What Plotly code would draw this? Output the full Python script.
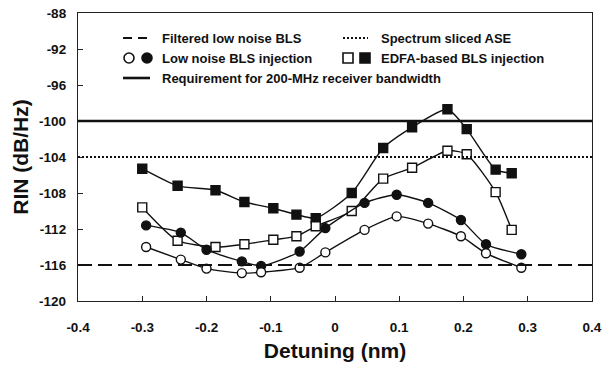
import plotly.graph_objects as go

# ---------------- data ----------------
sq_x = [-0.300, -0.245, -0.186, -0.141, -0.096, -0.060, -0.030,
        0.026, 0.075, 0.120, 0.175, 0.205, 0.250, 0.275]
edfa_filled = [-105.3, -107.2, -107.7, -109.0, -109.7, -110.4, -110.8,
               -108.0, -103.0, -100.7, -98.7, -100.9, -105.4, -105.8]
edfa_open = [-109.6, -113.3, -114.0, -113.7, -113.2, -112.8, -111.7,
             -110.0, -106.4, -105.2, -103.3, -103.7, -107.9, -112.1]

ci_x = [-0.294, -0.240, -0.200, -0.145, -0.115, -0.055, -0.015,
        0.046, 0.096, 0.145, 0.196, 0.235, 0.290]
lownoise_filled = [-111.6, -112.4, -114.3, -115.6, -116.1, -114.5, -111.9,
                   -109.1, -108.2, -109.1, -111.0, -113.7, -114.8]
lownoise_open = [-114.0, -115.4, -116.4, -116.9, -116.8, -116.3, -114.6,
                 -112.1, -110.6, -111.4, -112.8, -114.7, -116.3]

REQ_LEVEL = -100        # requirement for 200-MHz receiver bandwidth
ASE_LEVEL = -104        # spectrum sliced ASE
FILTERED_LEVEL = -116   # filtered low noise BLS

x_ticks = [-0.4, -0.3, -0.2, -0.1, 0, 0.1, 0.2, 0.3, 0.4]
x_ticktext = ["-0.4", "-0.3", "-0.2", "-0.1", "0", "0.1", "0.2", "0.3", "0.4"]
y_ticks = [-120, -116, -112, -108, -104, -100, -96, -92, -88]
y_ticktext = ["-120", "-116", "-112", "-108", "-104", "-100", "-96", "-92", "-88"]

legend_labels = ["Filtered low noise BLS", "Spectrum sliced ASE",
                 "Low noise BLS injection", "EDFA-based BLS injection",
                 "Requirement for 200-MHz receiver bandwidth"]

# ---------------- layout constants ----------------
W, H = 613, 367
L, R, T, B = 78, 21, 13, 66
PW, PH = W - L - R, H - T - B
FONT = "Liberation Sans, Arial, sans-serif"
BLK = "#111111"


def px(xp):
    return (xp - L) / PW


def py(yp):
    return (H - B - yp) / PH


fig = go.Figure()

# reference horizontal levels
fig.add_shape(type="line", xref="paper", x0=0, x1=1, yref="y", y0=FILTERED_LEVEL, y1=FILTERED_LEVEL,
              line=dict(color=BLK, width=2, dash="14px,6px"))
fig.add_shape(type="line", xref="paper", x0=0, x1=1, yref="y", y0=ASE_LEVEL, y1=ASE_LEVEL,
              line=dict(color=BLK, width=2, dash="2px,2px"))
fig.add_shape(type="line", xref="paper", x0=0, x1=1, yref="y", y0=REQ_LEVEL, y1=REQ_LEVEL,
              line=dict(color=BLK, width=2.6))

line_style = dict(color=BLK, width=1.4, shape="spline", smoothing=0.6)
series = [
    (sq_x, edfa_filled, "square", BLK),
    (sq_x, edfa_open, "square", "white"),
    (ci_x, lownoise_filled, "circle", BLK),
    (ci_x, lownoise_open, "circle", "white"),
]
for xs, ys, sym, fill in series:
    fig.add_trace(go.Scatter(
        x=xs, y=ys, mode="lines+markers", line=line_style,
        marker=dict(symbol=sym, size=9, color=fill, line=dict(color=BLK, width=1.4)),
        showlegend=False, hoverinfo="skip"))

# ---------------- custom legend ----------------
row_y = [38, 58, 78]
c1_sym0, c1_sym1, c1_text = 123, 150, 160
c2_sym0, c2_sym1, c2_text = 343, 368, 379

fig.add_shape(type="line", xref="paper", yref="paper", x0=px(c1_sym0), x1=px(c1_sym1),
              y0=py(row_y[0]), y1=py(row_y[0]), line=dict(color=BLK, width=2.2, dash="9px,6px"))
fig.add_shape(type="line", xref="paper", yref="paper", x0=px(c2_sym0), x1=px(c2_sym1),
              y0=py(row_y[0]), y1=py(row_y[0]), line=dict(color=BLK, width=2, dash="2px,2px"))
fig.add_shape(type="line", xref="paper", yref="paper", x0=px(c1_sym0), x1=px(c1_sym1),
              y0=py(row_y[2]), y1=py(row_y[2]), line=dict(color=BLK, width=2.6))

for cx, kind, fill in [(129, "circle", "white"), (147, "circle", BLK),
                       (348, "rect", "white"), (365, "rect", BLK)]:
    fig.add_shape(type=kind, xref="paper", yref="paper", xsizemode="pixel", ysizemode="pixel",
                  xanchor=px(cx), yanchor=py(row_y[1]), x0=-5, x1=5, y0=-5, y1=5,
                  fillcolor=fill, line=dict(color=BLK, width=1.6))

legend_pos = [(c1_text, row_y[0]), (c2_text, row_y[0]), (c1_text, row_y[1]),
              (c2_text, row_y[1]), (c1_text, row_y[2])]
for txt, (xp, yp) in zip(legend_labels, legend_pos):
    fig.add_annotation(text=txt, xref="paper", yref="paper", x=px(xp), y=py(yp),
                       xanchor="left", yanchor="middle", showarrow=False,
                       font=dict(family=FONT, size=13, color=BLK, weight="bold"))

axis_common = dict(showline=True, mirror=True, linecolor="#222222", linewidth=1.3,
                   ticks="inside", ticklen=5, tickcolor="#222222", tickwidth=1.2,
                   showgrid=False, zeroline=False,
                   tickfont=dict(family=FONT, size=13.5, color=BLK, weight="bold"))

fig.update_layout(
    width=W, height=H, margin=dict(l=L, r=R, t=T, b=B, autoexpand=False),
    paper_bgcolor="white", plot_bgcolor="white",
    xaxis=dict(range=[-0.4, 0.4], tickvals=x_ticks, ticktext=x_ticktext,
               ticklabelstandoff=14,
               title=dict(text="Detuning (nm)", standoff=8,
                          font=dict(family=FONT, size=21, color=BLK, weight="bold")),
               **axis_common),
    yaxis=dict(range=[-120, -88], tickvals=y_ticks, ticktext=y_ticktext,
               ticklabelstandoff=8,
               title=dict(text="RIN (dB/Hz)", standoff=4,
                          font=dict(family=FONT, size=21, color=BLK, weight="bold")),
               **axis_common),
)

fig.write_html("out.html")
